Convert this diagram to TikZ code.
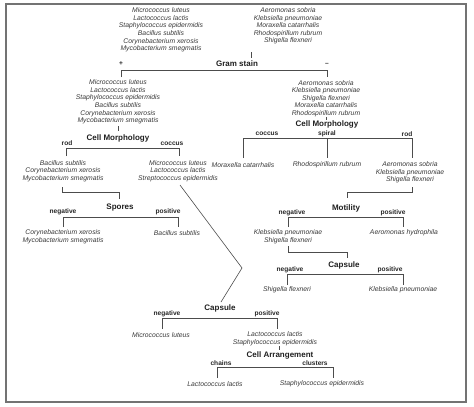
\documentclass[tikz,border=0pt]{standalone}
\usepackage{fontspec}
\setmainfont{Liberation Sans}
\begin{document}
\begin{tikzpicture}[x=1pt,y=-1pt,
 sp/.style={font=\fontsize{6.8}{7.6}\selectfont\itshape, align=center, inner sep=0pt, text=black!78},
 hd/.style={font=\fontsize{8}{9}\selectfont\bfseries, inner sep=0pt, text=black!88},
 lb/.style={font=\fontsize{6.6}{7}\selectfont\bfseries, inner sep=0pt, text=black!85},
 ln/.style={draw=black!70, line width=0.6pt},
 frame/.style={draw=black!55, line width=1.4pt}]
\useasboundingbox (0,0) rectangle (474,407);
\draw[frame] (6,4) rectangle (466,402);

% top
\node[sp] (tl) at (161,30) {Micrococcus luteus\\Lactococcus lactis\\Staphylococcus epidermidis\\Bacillus subtilis\\Corynebacterium xerosis\\Mycobacterium smegmatis};
\node[sp] (tr) at (288,26) {Aeromonas sobria\\Klebsiella pneumoniae\\Moraxella catarrhalis\\Rhodospirillum rubrum\\Shigella flexneri};
\coordinate (t1) at (251,52); \coordinate (t2) at (251,58);
\draw[ln] (t1) -- (t2);
\node[hd] (gram) at (237,64) {Gram stain};
\node[lb] (plus) at (121,64) {+};
\node[lb] (minus) at (327,64) {\textendash};
\draw[ln] (121,77) -- (121,70) -- (327,70) -- (327,77);

% left gram+
\node[sp] (lb2) at (118,102) {Micrococcus luteus\\Lactococcus lactis\\Staphylococcus epidermidis\\Bacillus subtilis\\Corynebacterium xerosis\\Mycobacterium smegmatis};
\draw[ln] (118,126) -- (118,131);
\node[hd] (cmL) at (118,138) {Cell Morphology};
\node[lb] (rodL) at (67,143) {rod};
\node[lb] (cocL) at (172,144) {coccus};
\draw[ln] (66,156) -- (66,148) -- (179,148) -- (179,156);
\node[sp] (lrod) at (63,171) {Bacillus subtilis\\Corynebacterium xerosis\\Mycobacterium smegmatis};
\node[sp] (lcoc) at (178,171) {Micrococcus luteus\\Lactococcus lactis\\Streptococcus epidermidis};
\draw[ln] (62,187) -- (62,192) -- (119,192) -- (119,199);
\node[hd] (spores) at (120,208) {Spores};
\node[lb] (spneg) at (63,212) {negative};
\node[lb] (sppos) at (168,212) {positive};
\draw[ln] (63,227) -- (63,217) -- (178,217) -- (178,227);
\node[sp] (snegblk) at (63,237) {Corynebacterium xerosis\\Mycobacterium smegmatis};
\node[sp] (spos) at (177,233) {Bacillus subtilis};

% zigzag to capsule
\coordinate (z1) at (180,185); \coordinate (z2) at (242,268); \coordinate (z3) at (221,302);
\draw[ln] (z1) -- (z2) -- (z3);
\node[hd] (capL) at (220,308) {Capsule};
\node[lb] (cLneg) at (167,314) {negative};
\node[lb] (cLpos) at (267,314) {positive};
\draw[ln] (162,329) -- (162,318) -- (277,318) -- (277,329);
\node[sp] (mlut) at (161,335) {Micrococcus luteus};
\node[sp] (lacstaph) at (275,338.5) {Lactococcus lactis\\Staphylococcus epidermidis};
\draw[ln] (279,346) -- (279,350);
\node[hd] (carr) at (280,355) {Cell Arrangement};
\node[lb] (chains) at (221,363) {chains};
\node[lb] (clusters) at (315,363) {clusters};
\draw[ln] (217,378) -- (217,367) -- (333,367) -- (333,378);
\node[sp] (lact) at (215,384) {Lactococcus lactis};
\node[sp] (staph) at (322,384) {Staphylococcus epidermidis};

% right gram-
\node[sp] (rb2) at (326,98.5) {Aeromonas sobria\\Klebsiella pneumoniae\\Shigella flexneri\\Moraxella catarrhalis\\Rhodospirillum rubrum};
\draw[ln] (326,117) -- (326,120);
\node[hd] (cmR) at (327,124) {Cell Morphology};
\node[lb] (cocR) at (267,134) {coccus};
\node[lb] (spiR) at (327,134) {spiral};
\node[lb] (rodR) at (407,134) {rod};
\draw[ln] (243,158) -- (243,138) -- (412,138) -- (412,158);
\draw[ln] (327,138) -- (327,158);
\node[sp] (mora) at (243,165) {Moraxella catarrhalis};
\node[sp] (rhodo) at (327,165) {Rhodospirillum rubrum};
\node[sp] (rrod) at (410,172.5) {Aeromonas sobria\\Klebsiella pneumoniae\\Shigella flexneri};
\draw[ln] (412,187) -- (412,192) -- (347,192) -- (347,198);
\node[hd] (motil) at (346,208) {Motility};
\node[lb] (mneg) at (292,213) {negative};
\node[lb] (mpos) at (393,213) {positive};
\draw[ln] (288,227) -- (288,217) -- (403,217) -- (403,227);
\node[sp] (mnegblk) at (288,236.5) {Klebsiella pneumoniae\\Shigella flexneri};
\node[sp] (aerohyd) at (404,233) {Aeromonas hydrophila};
\draw[ln] (288,246) -- (288,252) -- (347,252) -- (347,258);
\node[hd] (capR) at (344,265) {Capsule};
\node[lb] (cRneg) at (290,270) {negative};
\node[lb] (cRpos) at (390,270) {positive};
\draw[ln] (287,285) -- (287,274) -- (403,274) -- (403,285);
\node[sp] (shig) at (287,290) {Shigella flexneri};
\node[sp] (kleb) at (403,290) {Klebsiella pneumoniae};
\end{tikzpicture}
\end{document}
